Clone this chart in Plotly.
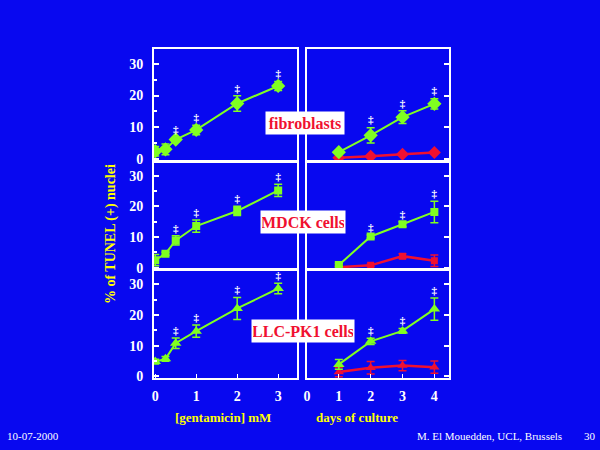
#!/usr/bin/env python3
"""
TUNEL-positive nuclei vs gentamicin concentration and days of culture.
"""

import plotly.graph_objects as go

# --- data -------------------------------------------------------------
conc = [0, 0.25, 0.5, 1, 2, 3]
days = [1, 2, 3, 4]

fibro_conc = [2.5, 3.1, 6.2, 9.2, 17.5, 23.0]
fibro_conc_err = [1.5, 1.7, 0.6, 1.5, 2.4, 1.4]
mdck_conc = [2.5, 4.6, 8.9, 13.6, 18.5, 25.2]
mdck_conc_err = [1.8, 0.5, 1.5, 2.0, 1.5, 2.0]
llc_conc = [4.8, 5.7, 10.8, 14.7, 22.1, 28.6]
llc_conc_err = [0.8, 0.8, 1.7, 2.0, 3.6, 1.7]
conc_sig = ['', '', '‡', '‡', '‡', '‡']

fibro_days_gm = [2.2, 7.5, 13.2, 17.4]
fibro_days_gm_err = [0.5, 2.4, 2.0, 1.6]
fibro_days_ctrl = [0.5, 0.9, 1.6, 2.1]
fibro_days_ctrl_err = [0.3, 0.3, 0.3, 0.3]
mdck_days_gm = [0.9, 10.2, 14.2, 18.2]
mdck_days_gm_err = [0.5, 0.5, 0.8, 3.5]
mdck_days_ctrl = [0.2, 0.8, 3.8, 2.3]
mdck_days_ctrl_err = [0.3, 0.4, 0.8, 1.9]
llc_days_gm = [3.9, 11.4, 14.8, 21.9]
llc_days_gm_err = [1.6, 1.0, 0.8, 3.6]
llc_days_ctrl = [1.4, 2.8, 3.5, 3.0]
llc_days_ctrl_err = [1.5, 2.0, 1.7, 2.0]
days_sig = ['', '‡', '‡', '‡']

cell_labels = ['fibroblasts', 'MDCK cells', 'LLC-PK1 cells']
y_ticks = [0, 10, 20, 30]
conc_ticks = [0, 1, 2, 3]
day_ticks = [0, 1, 2, 3, 4]

# --- style ------------------------------------------------------------
BG = '#0808F0'
GREEN = '#80FF20'
RED = '#F01030'
WHITE = '#FFFFFF'
YELLOW = '#FFFF00'
FONT = 'Liberation Serif'

W, H = 600, 450
LEFT_X = (151, 295)
RIGHT_X = (305, 448)
ROWS_Y = [(50, 163), (164, 273), (274, 383)]
SIG_OFFSET = 2.2
MARKER_SIZE = {'diamond': 11, 'square': 8, 'triangle-up': 10}


def px_dom(a, b, total, flip=False):
    if flip:
        return [1 - b / total, 1 - a / total]
    return [a / total, b / total]


fig = go.Figure()

panels = [
    (conc, fibro_conc, fibro_conc_err, conc_sig, None, None, 'diamond'),
    (days, fibro_days_gm, fibro_days_gm_err, days_sig, fibro_days_ctrl, fibro_days_ctrl_err, 'diamond'),
    (conc, mdck_conc, mdck_conc_err, conc_sig, None, None, 'square'),
    (days, mdck_days_gm, mdck_days_gm_err, days_sig, mdck_days_ctrl, mdck_days_ctrl_err, 'square'),
    (conc, llc_conc, llc_conc_err, conc_sig, None, None, 'triangle-up'),
    (days, llc_days_gm, llc_days_gm_err, days_sig, llc_days_ctrl, llc_days_ctrl_err, 'triangle-up'),
]

layout_axes = {}
for i, (xs, ys, errs, sig, ctrl, ctrl_err, symbol) in enumerate(panels):
    n = i + 1
    xa = 'x' if n == 1 else f'x{n}'
    ya = 'y' if n == 1 else f'y{n}'
    row, col = divmod(i, 2)
    msize = MARKER_SIZE[symbol]

    if ctrl is not None:
        fig.add_trace(go.Scatter(
            x=xs, y=ctrl, mode='lines+markers',
            line=dict(color=RED, width=2.5),
            marker=dict(symbol=symbol, size=msize - 1, color=RED),
            error_y=dict(type='data', array=ctrl_err, color=RED, thickness=1.5, width=4),
            xaxis=xa, yaxis=ya, showlegend=False,
        ))

    fig.add_trace(go.Scatter(
        x=xs, y=ys, mode='lines+markers',
        line=dict(color=GREEN, width=2),
        marker=dict(symbol=symbol, size=msize, color=GREEN),
        error_y=dict(type='data', array=errs, color=GREEN, thickness=1.5, width=4),
        xaxis=xa, yaxis=ya, showlegend=False,
    ))

    # significance marks above the treated series
    fig.add_trace(go.Scatter(
        x=xs, y=[v + e + SIG_OFFSET for v, e in zip(ys, errs)],
        mode='text', text=sig,
        textfont=dict(color=WHITE, size=11, family=FONT, weight='bold'),
        xaxis=xa, yaxis=ya, showlegend=False, hoverinfo='skip',
    ))

    left = col == 0
    bottom = row == 2
    xdom = px_dom(*(LEFT_X if left else RIGHT_X), W)
    ydom = px_dom(*ROWS_Y[row], H, flip=True)

    layout_axes['xaxis' if n == 1 else f'xaxis{n}'] = dict(
        domain=xdom, anchor=ya,
        range=[-0.03, 3.46] if left else [0, 4.46],
        tickvals=(conc_ticks if left else day_ticks) if bottom else [],
        showticklabels=bottom,
        ticks='inside' if bottom else '', ticklen=4, tickcolor=WHITE,
        tickfont=dict(color=WHITE, size=14, family=FONT, weight='bold'),
        ticklabelstandoff=4,
        showline=True, mirror=True, linecolor=WHITE, linewidth=2,
        showgrid=False, zeroline=False, fixedrange=True,
    )
    yax = dict(
        domain=ydom, anchor=xa,
        range=[-0.5, 34.5],
        tickvals=y_ticks, showticklabels=left,
        side='left' if left else 'right',
        ticks='inside', ticklen=5, tickcolor=WHITE, tickwidth=2,
        tickfont=dict(color=WHITE, size=14, family=FONT, weight='bold'),
        ticklabelstandoff=6,
        showline=True, mirror=True, linecolor=WHITE, linewidth=2,
        showgrid=False, zeroline=False, fixedrange=True,
    )
    if left:
        yax['minor'] = dict(dtick=5, ticks='inside', ticklen=3, tickcolor=WHITE)
    layout_axes['yaxis' if n == 1 else f'yaxis{n}'] = yax

annotations = []

# cell type labels in white boxes
label_boxes = [(303, 125, 76), (301, 225, 82), (301, 335, 100)]
for text, (cx, cy, bw) in zip(cell_labels, label_boxes):
    annotations.append(dict(
        text=text, x=cx / W, y=1 - cy / H,
        bgcolor=WHITE, width=bw, height=20,
        font=dict(color=RED, size=16, family=FONT, weight='bold'),
    ))

# axis titles and footer
annotations += [
    dict(text='% of TUNEL (+) nuclei', x=108 / W, y=1 - 237 / H, textangle=-90,
         font=dict(color=YELLOW, size=14, family=FONT, weight='bold')),
    dict(text='[gentamicin] mM', x=220 / W, y=1 - 423 / H,
         font=dict(color=YELLOW, size=13, family=FONT, weight='bold')),
    dict(text='days of culture', x=355 / W, y=1 - 423 / H,
         font=dict(color=YELLOW, size=13, family=FONT, weight='bold')),
    dict(text='10-07-2000', x=29 / W, y=1 - 442 / H,
         font=dict(color=WHITE, size=11, family=FONT)),
    dict(text='M. El Mouedden, UCL, Brussels', x=489 / W, y=1 - 442 / H,
         font=dict(color=WHITE, size=11, family=FONT)),
    dict(text='30', x=590 / W, y=1 - 442 / H,
         font=dict(color=WHITE, size=11, family=FONT)),
]
for a in annotations:
    a.update(xref='paper', yref='paper', showarrow=False,
             xanchor='center', yanchor='middle')

fig.update_layout(
    width=W, height=H,
    margin=dict(l=0, r=0, t=0, b=0),
    paper_bgcolor=BG, plot_bgcolor=BG,
    annotations=annotations,
    showlegend=False,
    **layout_axes,
)

# page body has a default 8px margin; drop it so the figure fills the window
fig.write_html("out.html", post_script="document.body.style.margin='0';",
               config={'displayModeBar': False})
